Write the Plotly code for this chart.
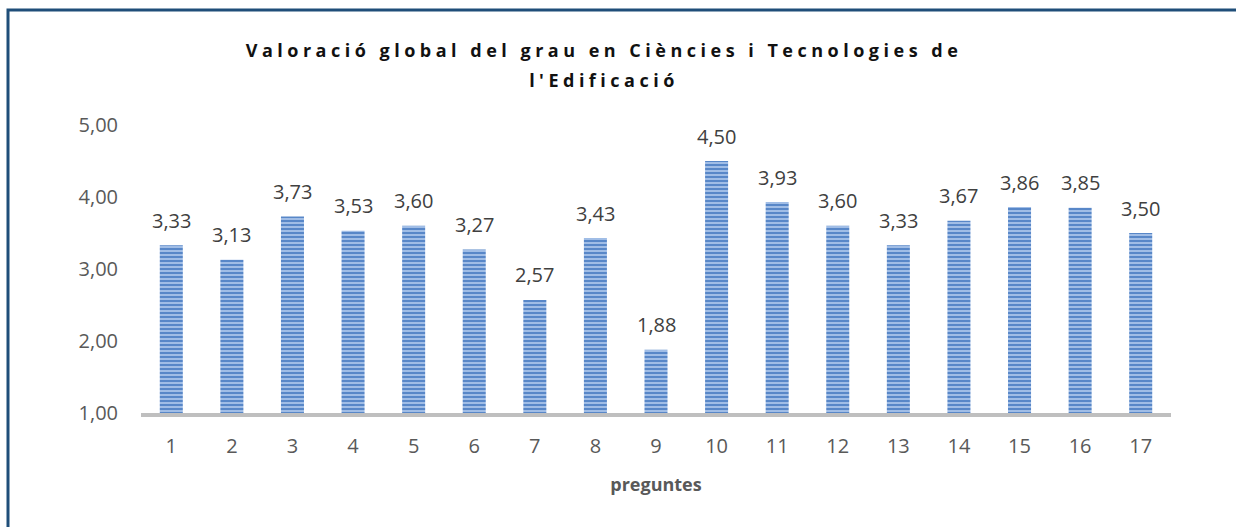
import plotly.graph_objects as go

categories = list(range(1, 18))
values = [3.33, 3.13, 3.73, 3.53, 3.60, 3.27, 2.57, 3.43, 1.88, 4.50, 3.93, 3.60, 3.33, 3.67, 3.86, 3.85, 3.50]
x_tick_labels = [str(c) for c in categories]
y_ticks = [1, 2, 3, 4, 5]
y_tick_labels = ["1,00", "2,00", "3,00", "4,00", "5,00"]
labels = [f"{v:.2f}".replace(".", ",") for v in values]

W, H = 1236, 527
L, R, T, B = 141, 65, 125, 114
pw, ph = W - L - R, H - T - B

def px_x(p):
    return (p - L) / pw

def px_y(p):
    return (H - B - p) / ph

FONT = "Open Sans"

fig = go.Figure(go.Bar(
    x=categories, y=values, base=0,
    width=0.38,
    marker=dict(
        color="#5887c8",
        line=dict(width=0),
        pattern=dict(shape="-", fgcolor="#b3cbee", bgcolor="#5887c8", size=4, solidity=0.4, fillmode="replace"),
    ),
    hoverinfo="x+y",
))

annotations = [
    dict(x=c, y=v, text=t, xref="x", yref="y", showarrow=False,
         yanchor="middle", xanchor="center", yshift=25,
         font=dict(family=FONT, size=20, color="#404040"))
    for c, v, t in zip(categories, values, labels)
]

fig.update_layout(
    width=W, height=H,
    margin=dict(l=L, r=R, t=T, b=B, autoexpand=False),
    paper_bgcolor="white", plot_bgcolor="white",
    showlegend=False,
    title=dict(
        text="Valoració global del grau en Ciències i Tecnologies de<br>l'Edificació",
        x=604 / W, xanchor="center", xref="container",
        y=1 - 57 / H, yanchor="top", yref="container",
        font=dict(family=FONT, size=18, color="#111111", weight="bold"),
    ),
    xaxis=dict(
        automargin=False,
        range=[0.5, 17.5],
        tickvals=categories, ticktext=x_tick_labels,
        showline=True, linecolor="#bfbfbf", linewidth=4,
        ticks="", showgrid=False, zeroline=False, ticklabelstandoff=12,
        tickfont=dict(family=FONT, size=20, color="#595959"),
        title=dict(text="<b>preguntes</b>", font=dict(family=FONT, size=18, color="#595959"), standoff=21),
    ),
    yaxis=dict(
        automargin=False,
        range=[1, 5], showgrid=False, zeroline=False, showline=False,
        tickvals=y_ticks, ticktext=y_tick_labels,
        tickfont=dict(family=FONT, size=20, color="#595959"),
        ticks="", ticklabelstandoff=22,
    ),
    annotations=annotations,
    shapes=[dict(
        type="rect", xref="paper", yref="paper",
        x0=px_x(8), x1=px_x(1400), y0=px_y(10), y1=px_y(800),
        line=dict(color="#1f4e79", width=3), fillcolor="rgba(0,0,0,0)", layer="above",
    )],
)

post = """
document.body.style.margin='0';
function ls(){
  document.querySelectorAll('.gtitle').forEach(function(e){
    e.style.letterSpacing='4.5px';
    var t=e.querySelectorAll('tspan.line');
    if(t.length>1){t[1].setAttribute('dy','1.65em');}
  });
}
ls();
var gd=document.getElementsByClassName('plotly-graph-div')[0];
gd.on('plotly_afterplot', ls);
"""
fig.write_html("out.html", post_script=post, config={"displayModeBar": False})
